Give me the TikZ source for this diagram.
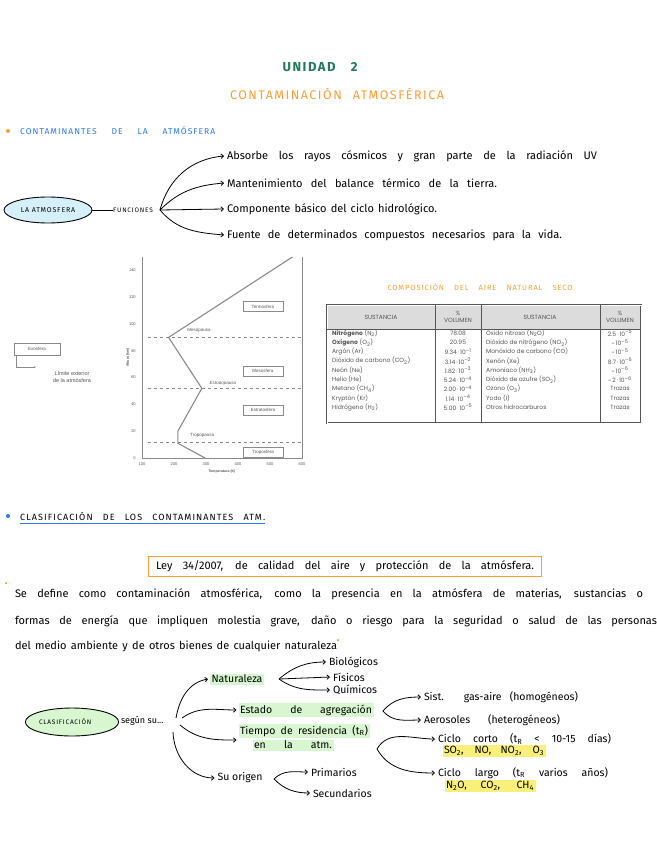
\documentclass[tikz,border=0pt]{standalone}
\usepackage{fontspec}
\setmainfont{Fira Sans}
\newfontfamily\mayus[LetterSpace=12]{Fira Sans}
\newfontfamily\tabla{Poppins}
\newfontfamily\grafica{Liberation Sans}
\usetikzlibrary{shapes.geometric,arrows.meta}

\definecolor{naranja}{HTML}{F5A034}
\definecolor{azul}{HTML}{2C7BE5}
\definecolor{verdeosc}{HTML}{1F7A5A}
\definecolor{azulclaro}{HTML}{D5F0F9}
\definecolor{verdeclaro}{HTML}{D8F6CF}
\definecolor{amarilloclaro}{HTML}{F8F07A}
\definecolor{gris}{HTML}{8A8A8A}
\definecolor{grisosc}{HTML}{555555}
\definecolor{grisclaro}{HTML}{DCDCDC}

% linea escrita a mano, estirada al ancho dado
\newcommand{\mano}[2]{\makebox[#1pt][s]{#2}}

\tikzset{
    texto/.style={inner sep=0pt, outer sep=3pt, font=\fontsize{11}{12}\selectfont},
    rama/.style={texto, font=\fontsize{10.5}{12}\selectfont},
    titular/.style={inner sep=0pt, font=\mayus\fontsize{8.5}{9}\selectfont},
    globo/.style={ellipse, draw, line width=0.9pt, inner sep=0pt, font=\mayus\fontsize{7}{7.5}\selectfont},
    flecha/.style={-{Straight Barb[length=2.5pt,width=4.5pt]}, line width=0.8pt},
    resalto/.style={rama, fill=verdeclaro, inner sep=1.5pt, outer sep=2pt},
    amarillo/.style={rama, fill=amarilloclaro, inner sep=1.5pt},
    punto/.style={circle, fill, inner sep=0pt, minimum size=4pt},
    eje/.style={inner sep=0pt, text=grisosc, font=\grafica\fontsize{4}{5}\selectfont},
    capa/.style={draw=gris, fill=white, text=grisosc, font=\grafica\fontsize{4.5}{5}\selectfont, minimum width=40pt, minimum height=10pt, inner sep=1pt},
    perfil/.style={gris, line width=1.1pt},
    pausa/.style={gris, dashed, line width=0.6pt},
    celda/.style={inner sep=0pt, text=grisosc, font=\tabla\fontsize{6}{6.5}\selectfont}
}

\begin{document}
\begin{tikzpicture}[x=1pt,y=1pt]
    \useasboundingbox (0,0) rectangle (656,-848);

    % cabecera
    \node[titular, font=\mayus\bfseries\fontsize{13}{14}\selectfont, text=verdeosc] (unidad) at (320,-67) {\mano{75}{UNIDAD 2}};
    \node[titular, font=\mayus\fontsize{12.5}{13}\selectfont, text=naranja] (contam) at (337,-94) {\mano{214}{CONTAMINACIÓN ATMOSFÉRICA}};

    % contaminantes de la atmosfera
    \node[punto, fill=naranja] (bala1) at (8,-131) {};
    \node[titular, text=azul, anchor=west] (sec1) at (20,-131) {\mano{195}{CONTAMINANTES DE LA ATMÓSFERA}};

    \node[globo, fill=azulclaro, minimum width=88pt, minimum height=26pt] (atm) at (48,-210) {LA ATMOSFERA};
    \node[titular, font=\mayus\fontsize{6.5}{7}\selectfont, anchor=west] (func) at (113,-210) {FUNCIONES};
    \coordinate (rama1) at (160,-210);
    \draw[line width=0.8pt] (atm) -- (func);

    \path node[texto, anchor=west] (f1) at (224,-156) {\mano{370}{Absorbe los rayos cósmicos y gran parte de la radiación UV}}
        node[texto, anchor=west] (f2) at (224,-183) {\mano{270}{Mantenimiento del balance térmico de la tierra.}}
        node[texto, anchor=west] (f3) at (224,-209) {\mano{210}{Componente básico del ciclo hidrológico.}}
        node[texto, anchor=west] (f4) at (224,-235) {\mano{335}{Fuente de determinados compuestos necesarios para la vida.}};
    \draw[flecha] (rama1) to[out=75, in=185] (f1.west);
    \draw[flecha] (rama1) to[out=45, in=185] (f2.west);
    \draw[flecha] (rama1) -- (f3.west);
    \draw[flecha] (rama1) to[out=-50, in=175] (f4.west);

    % capas de la atmosfera
    \begin{scope}[shift={(110,-458)}, x=0.32pt, y=1.34pt]
        \draw[gris, line width=0.5pt] (100,150) -- (100,0) -- (600,0) -- (600,150);
        \foreach \h in {0,20,...,140}
            \node[eje, anchor=east] (y\h) at (81,\h) {\h};
        \foreach \t in {100,200,...,600}
            \node[eje, anchor=north] (x\t) at (\t,-3) {\t};
        \foreach \h in {12,52,90}
            \draw[pausa] (120,\h) -- (600,\h);
        \draw[perfil] (297,0) -- (212,11) -- (212,20) -- (287,52) -- (183,90) -- (570,150);
        \node[capa] (termo) at (478,113) {Termosfera};
        \node[capa] (meso) at (478,65) {Mesosfera};
        \node[capa] (estrato) at (478,36) {Estratosfera};
        \node[capa] (tropo) at (478,4.5) {Troposfera};
        \node[eje, font=\grafica\fontsize{4.5}{5}\selectfont] (mesop) at (278,95) {Mesopausa};
        \node[eje, font=\grafica\itshape\fontsize{4.5}{5}\selectfont] (estratop) at (353,56) {Estratopausa};
        \node[eje, font=\grafica\fontsize{4.5}{5}\selectfont] (tropop) at (288,17) {Tropopausa};
        \node[eje, rotate=90, font=\grafica\bfseries\fontsize{3.5}{4}\selectfont] (altura) at (56,75) {Altura (km)};
        \node[eje, font=\grafica\bfseries\fontsize{3.5}{4}\selectfont] (temp) at (350,-10) {Temperatura (K)};
    \end{scope}

    \node[capa, minimum width=46pt, minimum height=12pt] (exo) at (37,-349) {Exosfera};
    \coordinate (limite) at (36,-367);
    \draw[gris, line width=0.5pt, -{Stealth[length=2pt]}] ([xshift=2pt]exo.south west) |- (limite);
    \node[eje, font=\grafica\fontsize{5.5}{6.5}\selectfont, align=center] (lim) at (72,-377) {Límite exterior\\de la atmósfera};

    % composicion del aire
    \node[titular, font=\mayus\fontsize{7.5}{8}\selectfont, text=naranja] (comp) at (480,-287) {\mano{185}{COMPOSICIÓN DEL AIRE NATURAL SECO}};
    \fill[grisclaro] (327,-305) rectangle (641,-329);
    \draw[grisosc, double, double distance=0.7pt, line width=0.4pt] (327,-305) rectangle (641,-423);
    \draw[grisosc, line width=0.5pt] (327,-329) -- (641,-329);
    \foreach \x in {435,481,600}
        \draw[grisosc, line width=0.5pt] (\x,-305) -- (\x,-423);
    \node[celda] (h1) at (381,-317) {SUSTANCIA};
    \node[celda, align=center] (h2) at (458,-317) {\%\\VOLUMEN};
    \node[celda] (h3) at (540,-317) {SUSTANCIA};
    \node[celda, align=center] (h4) at (620,-317) {\%\\VOLUMEN};
    \foreach \a/\b/\c/\d [count=\i] in {
        {\bfseries Nitrógeno} (N\textsubscript{2})/78.08/Óxido nitroso (N\textsubscript{2}O)/2.5\,·\,10\textsuperscript{–5},
        {\bfseries Oxígeno} (O\textsubscript{2})/20.95/Dióxido de nitrógeno (NO\textsubscript{2})/\textasciitilde\,10\textsuperscript{–5},
        Argón (Ar)/9.34\,·\,10\textsuperscript{–1}/Monóxido de carbono (CO)/\textasciitilde\,10\textsuperscript{–5},
        Dióxido de carbono (CO\textsubscript{2})/3.14\,·\,10\textsuperscript{–2}/Xenón (Xe)/8.7\,·\,10\textsuperscript{–6},
        Neón (Ne)/1.82\,·\,10\textsuperscript{–3}/Amoníaco (NH\textsubscript{3})/\textasciitilde\,10\textsuperscript{–6},
        Helio (He)/5.24\,·\,10\textsuperscript{–4}/Dióxido de azufre (SO\textsubscript{2})/\textasciitilde\,2\,·\,10\textsuperscript{–6},
        Metano (CH\textsubscript{4})/2.00\,·\,10\textsuperscript{–4}/Ozono (O\textsubscript{3})/Trazas,
        Kryptón (Kr)/1.14\,·\,10\textsuperscript{–4}/Yodo (I)/Trazas,
        Hidrógeno (H\textsubscript{2})/5.00\,·\,10\textsuperscript{–5}/Otros hidrocarburos/Trazas}{
        \node[celda, anchor=west] (izq\i) at (332,{-324-9.25*\i}) {\a};
        \node[celda] (vol\i) at (458,{-324-9.25*\i}) {\b};
        \node[celda, anchor=west] (der\i) at (486,{-324-9.25*\i}) {\c};
        \node[celda] (pct\i) at (620,{-324-9.25*\i}) {\d};
    }

    % clasificacion de los contaminantes
    \node[punto, fill=azul] (bala2) at (8,-516) {};
    \node[titular, font=\mayus\fontsize{9}{9.5}\selectfont, anchor=west] (sec2) at (20,-516) {\mano{245}{CLASIFICACIÓN DE LOS CONTAMINANTES ATM.}};
    \draw[azul, line width=1pt] ([yshift=-3pt]sec2.south west) -- ([yshift=-3pt]sec2.south east);

    \node[texto, draw=naranja, line width=1pt, outer sep=0pt, minimum width=393pt, minimum height=20pt] (ley) at (345,-566) {\mano{378}{Ley 34/2007, de calidad del aire y protección de la atmósfera.}};

    \node[punto, fill=naranja, minimum size=2.5pt] (marca1) at (6,-583) {};
    \path node[texto, anchor=west] (p1) at (12,-594) {\mano{628}{Se define como contaminación atmosférica, como la presencia en la atmósfera de materias, sustancias o}}
        node[texto, anchor=west] (p2) at (12,-621) {\mano{642}{formas de energía que impliquen molestia grave, daño o riesgo para la seguridad o salud de las personas}}
        node[texto, anchor=west] (p3) at (12,-646) {\mano{322}{del medio ambiente y de otros bienes de cualquier naturaleza}};
    \node[punto, fill=naranja, minimum size=2.5pt] (marca2) at (338,-640) {};

    \node[globo, fill=verdeclaro, minimum width=82pt, minimum height=28pt, font=\mayus\fontsize{6.5}{7}\selectfont] (clasif) at (72,-722) {\mano{66}{CLASIFICACIÓN}};
    \node[rama, anchor=west, outer sep=0pt, font=\fontsize{9}{10}\selectfont] (segun) at (121,-721) {según su...};
    \coordinate (rama2) at (176,-722);

    \path node[resalto] (natur) at (237,-679) {Naturaleza}
        node[resalto] (estado) at (306,-710) {\mano{132}{Estado de agregación}}
        node[resalto] (tiempo) at (304,-731) {\mano{128}{Tiempo de residencia (t\textsubscript{R})}}
        node[resalto] (tiempob) at (293,-745) {\mano{78}{en la atm.}}
        node[rama] (origen) at (240,-778) {Su origen};
    \draw[flecha] ([yshift=4pt]rama2) to[out=80, in=190] (natur.west);
    \draw[flecha] ([xshift=6pt,yshift=4pt]rama2) to[out=35, in=180] (estado.west);
    \draw[flecha] ([xshift=4pt,yshift=-3pt]rama2) to[out=-40, in=180] (tiempo.south west);
    \draw[flecha] ([xshift=-3pt,yshift=-10pt]rama2) to[out=-88, in=180] (origen.west);

    % naturaleza
    \coordinate (rama3) at (279,-679);
    \path node[rama, anchor=west] (bio) at (326,-662) {Biológicos}
        node[rama, anchor=west] (fis) at (330,-677) {Físicos}
        node[rama, anchor=west] (qui) at (330,-690) {Químicos};
    \draw[flecha] (rama3) to[out=40, in=180] (bio.west);
    \draw[flecha] (rama3) -- (fis.west);
    \draw[flecha] (rama3) to[out=-35, in=180] (qui.west);

    % estado de agregacion
    \coordinate (rama4) at (383,-711);
    \path node[rama, anchor=west] (sist) at (421,-697) {\mano{154}{Sist. gas-aire (homogéneos)}}
        node[rama, anchor=west] (aeros) at (421,-720) {\mano{136}{Aerosoles (heterogéneos)}};
    \draw[flecha] (rama4) to[out=50, in=180] (sist.west);
    \draw[flecha] (rama4) to[out=-50, in=180] (aeros.west);

    % tiempo de residencia
    \coordinate (rama5) at (377,-749);
    \path node[rama, anchor=west] (corto) at (435,-739) {\mano{173}{Ciclo corto (t\textsubscript{R} < 10-15 días)}}
        node[amarillo] (cortob) at (494,-751) {\mano{100}{SO\textsubscript{2}, NO, NO\textsubscript{2}, O\textsubscript{3}}}
        node[rama, anchor=west] (largo) at (435,-773) {\mano{170}{Ciclo largo (t\textsubscript{R} varios años)}}
        node[amarillo] (largob) at (490,-786) {\mano{88}{N\textsubscript{2}O, CO\textsubscript{2}, CH\textsubscript{4}}};
    \draw[flecha] (rama5) to[out=60, in=180] (corto.west);
    \draw[flecha] (rama5) to[out=-60, in=180] (largo.west);

    % origen
    \coordinate (rama6) at (274,-779);
    \path node[rama, anchor=west] (prim) at (308,-772) {Primarios}
        node[rama, anchor=west] (secu) at (310,-793) {Secundarios};
    \draw[flecha] (rama6) to[out=45, in=180] (prim.west);
    \draw[flecha] (rama6) to[out=-45, in=180] (secu.west);
\end{tikzpicture}
\end{document}
